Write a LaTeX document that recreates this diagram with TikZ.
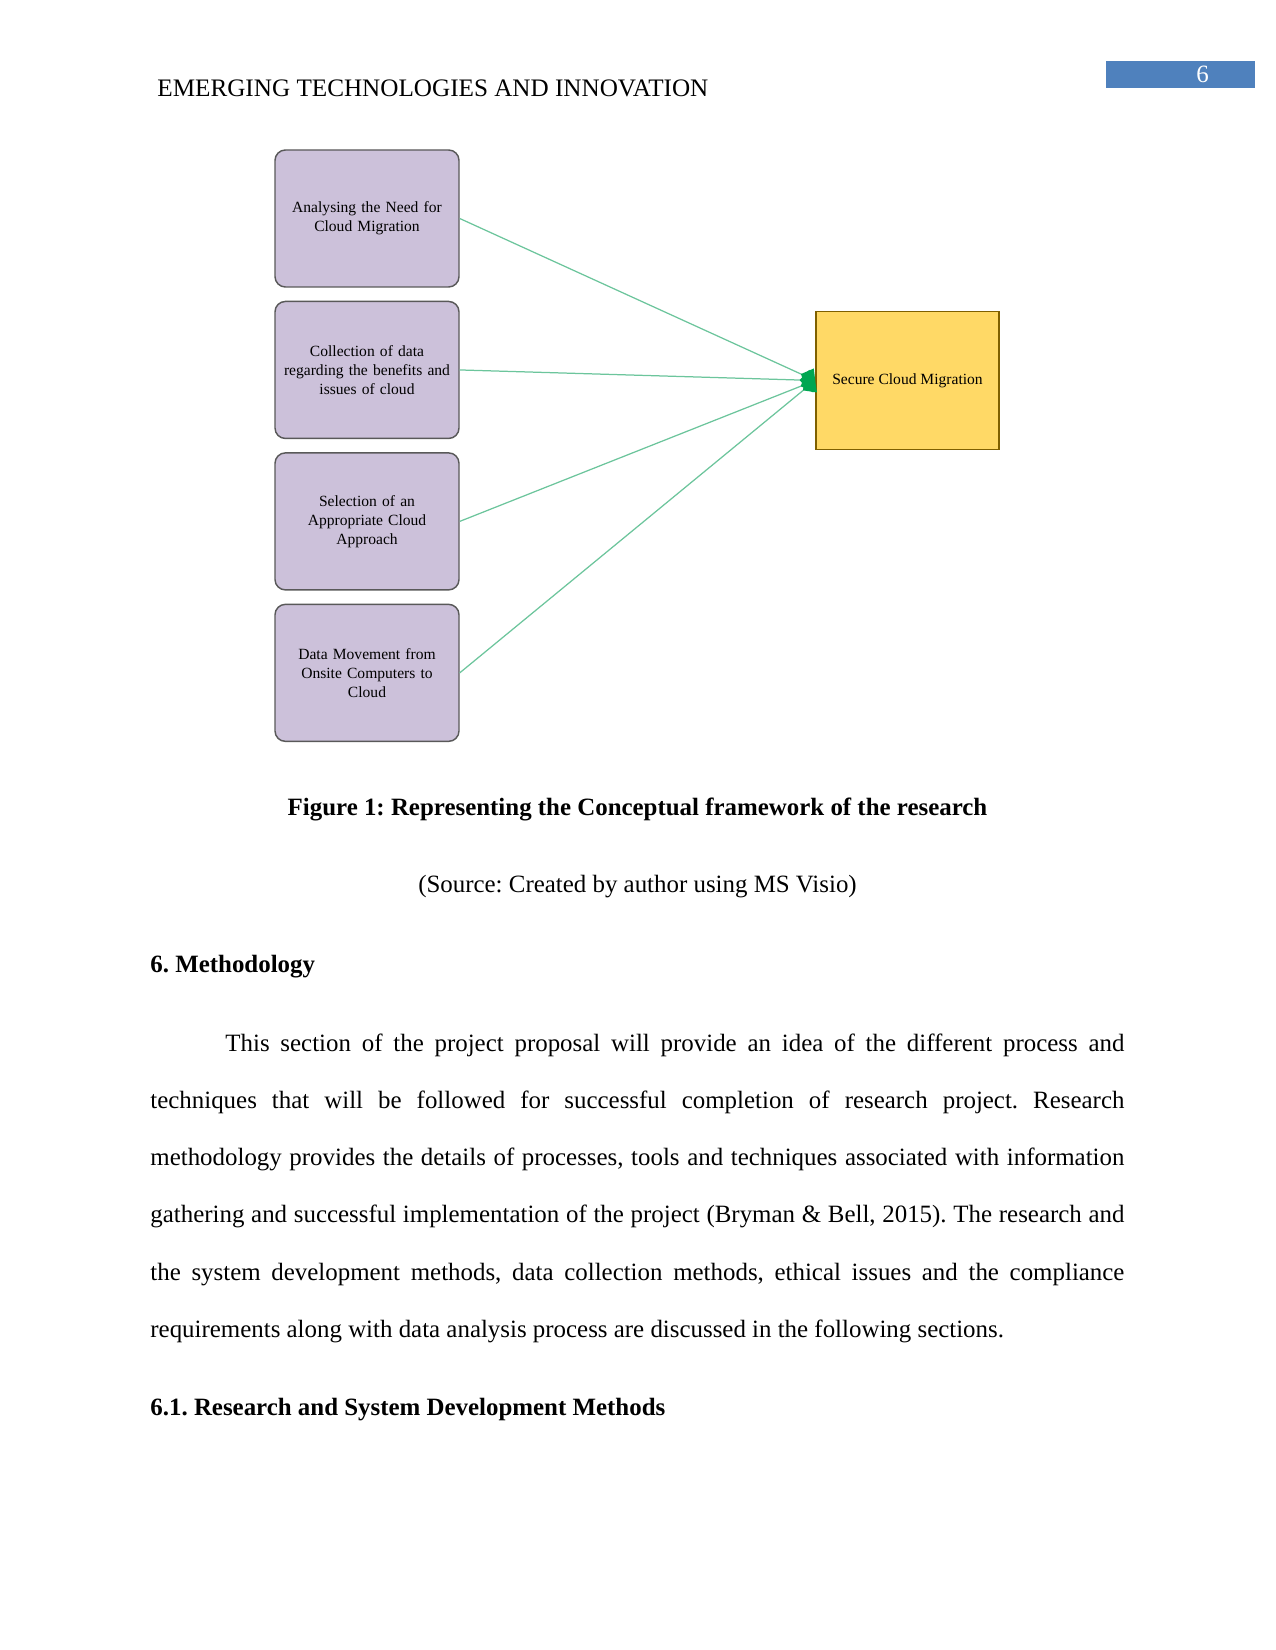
\documentclass[tikz,border=0pt]{standalone}
\usepackage{fontspec}
\setmainfont{Liberation Serif}
\usetikzlibrary{arrows.meta,positioning}
\definecolor{boxlav}{HTML}{CCC1DA}
\definecolor{boxedge}{HTML}{595959}
\definecolor{goalgold}{HTML}{FFD966}
\definecolor{goaledge}{HTML}{7F6000}
\definecolor{linkgreen}{HTML}{6CC59C}
\definecolor{tipgreen}{HTML}{00A651}
\definecolor{hdrblue}{HTML}{4F81BD}
\newdimen\pxu \pxu=0.4818pt
\frenchspacing
\tikzset{
  box style/.style={rectangle, rounded corners=5pt, draw=boxedge, fill=boxlav, line width=0.7pt,
    minimum width=184\pxu, minimum height=137\pxu, text width=80pt, align=center,
    inner sep=0pt, font=\fontsize{7.5}{9.2}\selectfont},
  goal style/.style={rectangle, draw=goaledge, fill=goalgold, line width=0.8pt,
    minimum width=183\pxu, minimum height=138\pxu, align=center, font=\fontsize{7.5}{9.2}\selectfont},
  arr style/.style={-{Kite[length=7.5pt, width=10pt, inset=4.5pt, color=tipgreen]}, draw=linkgreen, line width=0.6pt},
  txt style/.style={anchor=base west, inner sep=0pt, font=\fontsize{12}{14}\selectfont},
  head style/.style={anchor=base west, inner sep=0pt, font=\fontsize{12}{14}\selectfont\bfseries}
}
\begin{document}
\begin{tikzpicture}[x=1\pxu, y=-1\pxu, node distance=13\pxu]
\useasboundingbox (0,0) rectangle (1275,1650);
% running head
\node[txt style] (head) at (157,97) {\resizebox{551\pxu}{!}{EMERGING TECHNOLOGIES AND INNOVATION}};
\node[rectangle, fill=hdrblue, minimum width=149\pxu, minimum height=27\pxu, inner sep=0pt,
  text=white, font=\fontsize{12}{14}\selectfont] (pgnum) at (1180.5,74.5) {\hspace*{44\pxu}6};
% framework
\node[box style] (need) at (367,218.5) {Analysing the Need for\\Cloud Migration};
\node[box style, below=of need] (collect) {Collection of data\\regarding the benefits and\\issues of cloud};
\node[box style, below=of collect] (select) {Selection of an\\Appropriate Cloud\\Approach};
\node[box style, below=of select] (move) {Data Movement from\\Onsite Computers to\\Cloud};
\node[goal style] (secure) at (907.5,380.5) {Secure Cloud Migration};
\draw[arr style] (need.east)--(secure.west);
\draw[arr style] (collect.east)--(secure.west);
\draw[arr style] (select.east)--(secure.west);
\draw[arr style] (move.east)--(secure.west);
% caption
\node[anchor=base, inner sep=0pt, font=\fontsize{12}{14}\selectfont\bfseries] (cap) at (637.5,815)
  {Figure 1: Representing the Conceptual framework of the research};
\node[anchor=base, inner sep=0pt, font=\fontsize{12}{14}\selectfont] (src) at (637.5,892)
  {(Source: Created by author using MS Visio)};
% section text
\node[head style] (sec) at (150,972) {6. Methodology};
\node[txt style] (l1) at (225,1051) {\makebox[899\pxu][s]{This section of the project proposal will provide an idea of the different process and}};
\node[txt style] (l2) at (150,1108) {\makebox[974\pxu][s]{techniques that will be followed for successful completion of research project. Research}};
\node[txt style] (l3) at (150,1165) {\makebox[974\pxu][s]{methodology provides the details of processes, tools and techniques associated with information}};
\node[txt style] (l4) at (150,1222) {\makebox[974\pxu][s]{gathering and successful implementation of the project (Bryman \& Bell, 2015). The research and}};
\node[txt style] (l5) at (150,1280) {\makebox[974\pxu][s]{the system development methods, data collection methods, ethical issues and the compliance}};
\node[txt style] (l6) at (150,1337) {requirements along with data analysis process are discussed in the following sections.};
\node[head style] (subsec) at (150,1415) {6.1. Research and System Development Methods};
\end{tikzpicture}
\end{document}
